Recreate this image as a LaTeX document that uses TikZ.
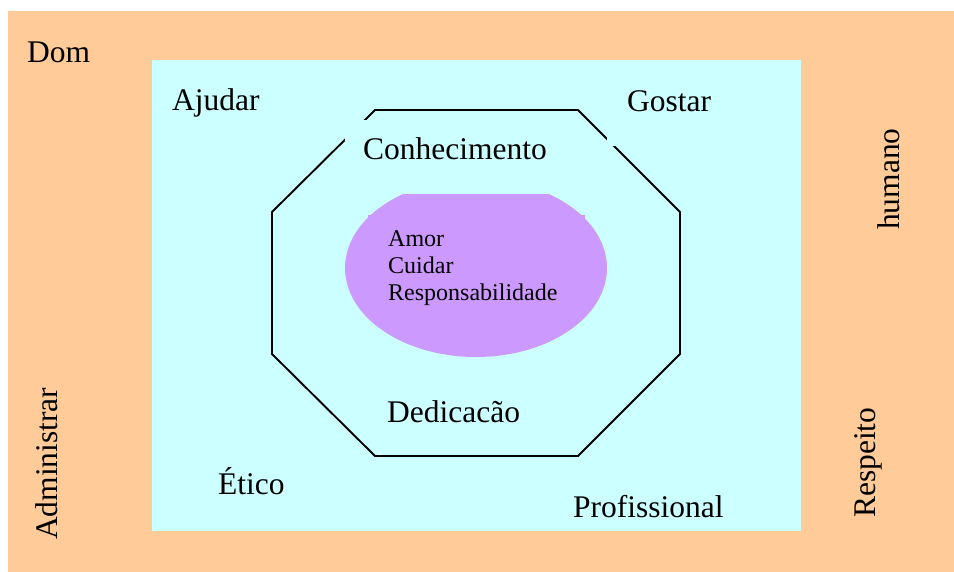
\documentclass[tikz,border=0pt]{standalone}
\usepackage{fontspec}
\setmainfont{Liberation Serif}
\usepackage{xcolor}
\usepackage{tikz}
\usetikzlibrary{positioning}
\definecolor{peach}{HTML}{FFCC99}
\definecolor{paleCyan}{HTML}{CCFFFF}
\definecolor{lilac}{HTML}{CC99FF}
\tikzset{
  word/.style={font=\fontsize{31.5}{38}\selectfont, inner sep=0pt, anchor=base west},
  smallword/.style={font=\fontsize{24}{27}\selectfont, inner sep=0pt, anchor=base west}
}

\begin{document}
\begin{tikzpicture}[x=1pt, y=-1pt]
\useasboundingbox (0,0) rectangle (954,572);
\fill[peach] (8,11) rectangle (954,572); % outer frame
\fill[paleCyan] (152,60) rectangle (801,531); % inner field
\coordinate (o1) at (375,110);
\coordinate (o2) at (578,110);
\coordinate (o3) at (680,212);
\coordinate (o4) at (680,354);
\coordinate (o5) at (578,456);
\coordinate (o6) at (375,456);
\coordinate (o7) at (272,354);
\coordinate (o8) at (272,212);
\draw[line width=1.9pt] (o1) -- (o2) -- (o3) -- (o4) -- (o5) -- (o6) -- (o7) -- (o8) -- cycle; % octagon
\fill[lilac] (476,268) ellipse [x radius=131, y radius=89]; % core
\fill[lilac] (368,215) rectangle (585,315); % text box of the core
\foreach \w [count=\k from 0] in {Amor,Cuidar,Responsabilidade}{\node[smallword] (core\k) at (388,{247+27*\k}) {\w};}
\fill[paleCyan] (345,120) rectangle (585,194); % box behind Conhecimento
\fill[paleCyan] (607,80) rectangle (730,146); % box behind Gostar
\node[word] (conhecimento) at (363,160) {Conhecimento};
\node[word] (dedicacao) at (387,422) {Dedicacão};
\node[word] (dom) at (27,63) {Dom};
\node[word] (ajudar) at (172,111) {Ajudar};
\node[word] (gostar) at (627,112) {Gostar};
\node[word] (etico) at (218,494) {Ético};
\node[word] (profissional) at (573,517) {Profissional};
\node[word, rotate=90] (humano) at (899,230) {humano};
\node[word, rotate=90] (respeito) at (875,518) {Respeito};
\node[word, rotate=90] (administrar) at (57,540) {Administrar};
\end{tikzpicture}
\end{document}
